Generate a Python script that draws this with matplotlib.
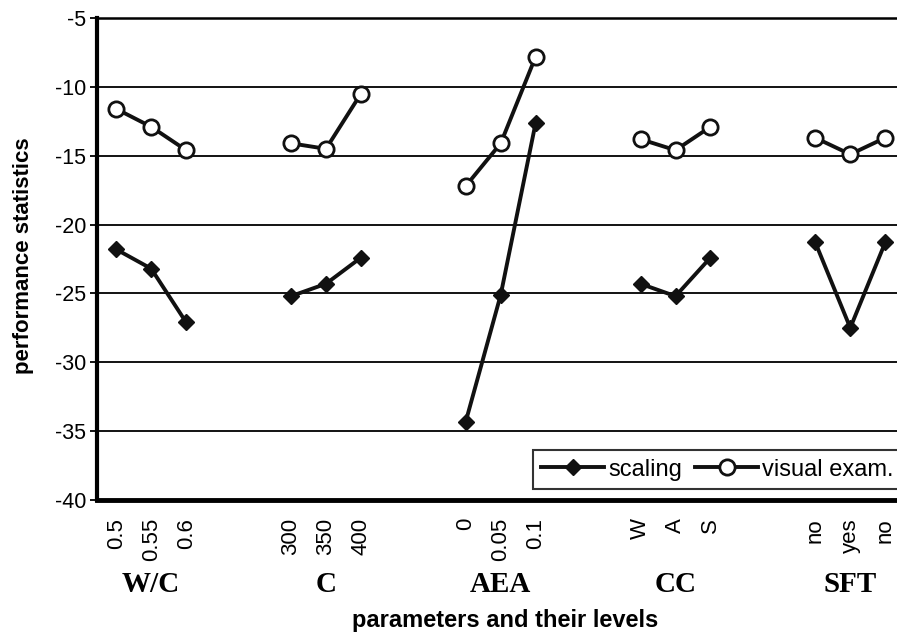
import matplotlib
matplotlib.use("Agg")
import matplotlib.pyplot as plt
import numpy as np

plt.rcParams['font.family'] = ['Liberation Sans', 'DejaVu Sans']
plt.rcParams['axes.unicode_minus'] = False

groups = ["W/C", "C", "AEA", "CC", "SFT"]
levels = [["0.5", "0.55", "0.6"],
          ["300", "350", "400"],
          ["0", "0.05", "0.1"],
          ["W", "A", "S"],
          ["no", "yes", "no"]]
scaling = [[-21.8, -23.2, -27.1],
           [-25.2, -24.3, -22.4],
           [-34.3, -25.1, -12.6],
           [-24.3, -25.2, -22.4],
           [-21.3, -27.5, -21.3]]
visual = [[-11.6, -12.9, -14.6],
          [-14.1, -14.5, -10.5],
          [-17.2, -14.1, -7.8],
          [-13.8, -14.6, -12.9],
          [-13.7, -14.9, -13.7]]

fig = plt.figure(figsize=(8.97, 6.35), dpi=100)
ax = fig.add_axes([97/897, 1-500/635, 1.02-97/897, (500-18)/635])

ax.set_ylim(-40, -5)
ax.set_xlim(-0.55, 22.85)
for y in range(-35, -5, 5):
    ax.axhline(y, color='black', lw=1.3, zorder=1)

xs_all, lab_all = [], []
for gi, g in enumerate(groups):
    xs = np.arange(3) + gi * 5
    xs_all += list(xs)
    lab_all += levels[gi]
    l1, = ax.plot(xs, scaling[gi], color='#111111', lw=2.8, marker='D', ms=8.5,
                  mfc='#111111', mec='#111111', zorder=3)
    l2, = ax.plot(xs, visual[gi], color='#111111', lw=2.8, marker='o', ms=11,
                  mfc='white', mec='#111111', mew=2, zorder=3)
    ax.text(gi * 5 + 1, -0.176, g, transform=ax.get_xaxis_transform(),
            ha='center', va='center', fontsize=21, fontweight='bold',
            family='Liberation Serif')

ax.set_xticks(xs_all)
ax.set_xticklabels(lab_all, rotation=90, fontsize=16)
ax.tick_params(axis='x', length=0, pad=13)
ax.set_yticks(range(-40, 0, 5))
ax.tick_params(axis='y', labelsize=15.5, length=5, width=1.3, direction='out', pad=3)

ax.spines['right'].set_visible(False)
ax.spines['top'].set_linewidth(1.8)
ax.spines['left'].set_linewidth(3)
ax.spines['bottom'].set_linewidth(3.5)

fig.text(23/897, 1-256/635, 'performance statistics', rotation=90, ha='center',
         va='center', fontsize=16, fontweight='bold')
fig.text(505/897, 1-621/635, 'parameters and their levels', ha='center', va='center',
         fontsize=17, fontweight='bold')

leg = ax.legend([l1, l2], ['scaling', 'visual exam.'], loc='lower left',
                bbox_to_anchor=(533/897, 1-489/635), bbox_transform=fig.transFigure,
                ncol=2, fontsize=17, frameon=True, fancybox=False,
                handlelength=2.67, handletextpad=0.17, columnspacing=0.55,
                borderpad=0.35, borderaxespad=0)
leg.get_frame().set_edgecolor('black')
leg.get_frame().set_linewidth(1.5)

fig.savefig('out.png', dpi=100)
